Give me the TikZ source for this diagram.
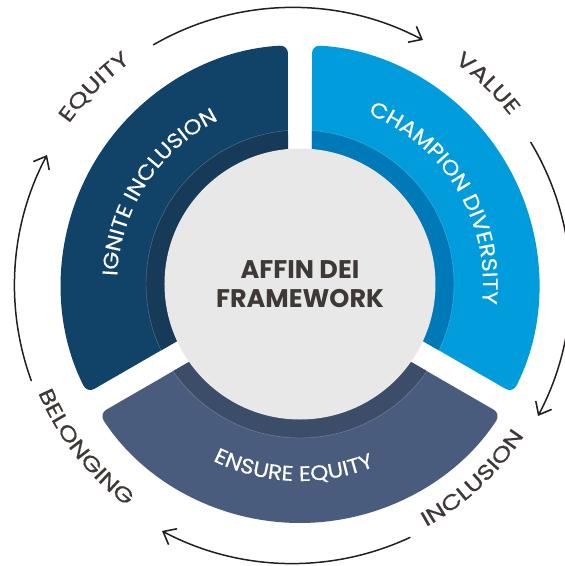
\documentclass[tikz,border=0pt]{standalone}
\usepackage{fontspec}
\setmainfont{Poppins}
\newfontfamily\ringfont[FakeStretch=1.25,FakeBold=0.5]{Poppins}
\newfontfamily\pillarfont[FakeStretch=1.1,FakeBold=0.3]{Poppins}
\usetikzlibrary{arrows.meta,decorations.text}

\definecolor{ignite}{HTML}{114268}
\definecolor{ignitedark}{HTML}{163A58}
\definecolor{champion}{HTML}{009CDB}
\definecolor{championdark}{HTML}{0079B8}
\definecolor{ensure}{HTML}{4A5C7E}
\definecolor{ensuredark}{HTML}{3C4D6A}
\definecolor{corefill}{HTML}{E8E8E8}
\definecolor{ink}{HTML}{3E3937}
\definecolor{arrowink}{HTML}{231F20}

\tikzset{
  cycle arrow/.style={draw=arrowink, line width=1.5pt, line cap=round,
    -{Straight Barb[length=11pt,width=18pt,line width=1.6pt]}},
  ring label/.style={decorate, decoration={text along path, text align=center,
    text color=ink, text={|\ringfont\fontsize{21}{21}\selectfont|#1}}},
  pillar label/.style={decorate, decoration={text along path, text align=center,
    text color=white, text={|\pillarfont\fontsize{21}{21}\selectfont|#1}}},
}

\begin{document}
\begin{tikzpicture}[x=1pt,y=1pt]
    \useasboundingbox (-300,-282) rectangle (265,284);
    \foreach \a/\b/\main/\band in {90/210/ignite/ignitedark,-30/90/champion/championdark,210/330/ensure/ensuredark}{
      \fill[\main, rounded corners=8pt] ({\a+6.84}:100.7) -- ({\a+2.88}:239)
        arc[start angle=\a+2.88, end angle=\b-2.88, radius=239] -- ({\b-6.84}:100.7) -- cycle;
      \fill[\band] ({\a+6.84}:100.7) -- ({\a+4.47}:154)
        arc[start angle=\a+4.47, end angle=\b-4.47, radius=154] -- ({\b-6.84}:100.7) -- cycle;
      \draw[white, opacity=.3, line width=.4pt] ({\a+4.47}:154)
        arc[start angle=\a+4.47, end angle=\b-4.47, radius=154];
    }
    \node(core)[circle, fill=corefill, minimum size=271pt, inner sep=0pt, text=ink, align=center,
      font=\bfseries\fontsize{25.5}{29}\selectfont] at (0,0) {AFFIN DEI\\FRAMEWORK};
    \path[pillar label={IGNITE INCLUSION}] (187:183) arc[start angle=187, end angle=107, radius=183];
    \path[pillar label={CHAMPION DIVERSITY}] (71:183) arc[start angle=71, end angle=-9, radius=183];
    \path[pillar label={ENSURE EQUITY}] (218:197) arc[start angle=218, end angle=318, radius=197];
    \begin{scope}[shift={(-7.5,-1.5)}]
      \coordinate(hub) at (0,0);
      \draw[cycle arrow] (120:278) arc[start angle=120, end angle=62, radius=278];
      \draw[cycle arrow] (31:278) arc[start angle=31, end angle=-28, radius=278];
      \draw[cycle arrow] (-65:278) arc[start angle=-65, end angle=-118, radius=278];
      \draw[cycle arrow] (200:278) arc[start angle=200, end angle=152, radius=278];
      \path[ring label=EQUITY] (175:276) arc[start angle=175, end angle=95, radius=276];
      \path[ring label=VALUE] (86:276) arc[start angle=86, end angle=6, radius=276];
      \path[ring label=INCLUSION] (-87:276) arc[start angle=-87, end angle=-7, radius=276];
      \path[ring label=BELONGING] (178:276) arc[start angle=178, end angle=258, radius=276];
    \end{scope}
\end{tikzpicture}
\end{document}
